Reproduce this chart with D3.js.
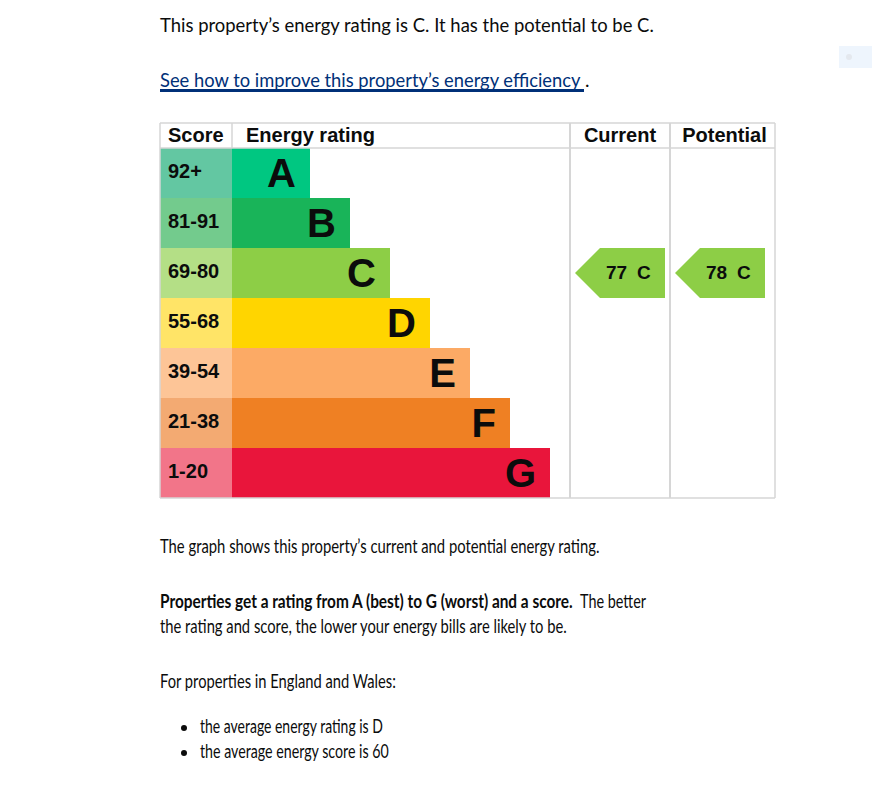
<!DOCTYPE html>
<html>
<head>
<meta charset="utf-8">
<script src="https://cdn.jsdelivr.net/npm/d3@7"></script>
<style>
  html, body { margin: 0; padding: 0; background: #ffffff; }
  svg { display: block; }
</style>
</head>
<body>
<div id="chart"></div>
<script>
// ---------- data ----------
const bands = ["A", "B", "C", "D", "E", "F", "G"];
const scoreRanges = ["92+", "81-91", "69-80", "55-68", "39-54", "21-38", "1-20"];
const bandColors = ["#00c781", "#19b459", "#8dce46", "#ffd500", "#fcaa65", "#ef8023", "#e9153b"];
const scoreColors = ["#63c7a2", "#73cb8d", "#b4df86", "#ffe467", "#fdc597", "#f3aa72", "#f27589"];
const columns = ["Score", "Energy rating", "Current", "Potential"];
const currentRating = { score: 77, band: "C" };
const potentialRating = { score: 78, band: "C" };

const introText = "This property\u2019s energy rating is C. It has the potential to be C.";
const linkText = "See how to improve this property\u2019s energy efficiency";
const graphText = "The graph shows this property\u2019s current and potential energy rating.";
const boldText = "Properties get a rating from A (best) to G (worst) and a score.";
const betterText = "The better";
const line2Text = "the rating and score, the lower your energy bills are likely to be.";
const forText = "For properties in England and Wales:";
const bulletTexts = ["the average energy rating is D", "the average energy score is 60"];

// ---------- layout ----------
const W = 872, H = 789;
const svg = d3.select("#chart").append("svg").attr("width", W).attr("height", H);

const bodyFont = "Lato, 'Noto Sans', sans-serif";
const chartFont = "'Liberation Sans', Arial, sans-serif";
const textColor = "#0b0c0c";
const gridColor = "#d6d6d6";

// body text line: natural text, horizontally scaled to hit the reference width
function bodyLine(txt, x, y, width, opts = {}) {
  const grp = svg.append("g").attr("transform", `translate(${x},${y})`);
  const t = grp.append("text")
    .attr("x", 0).attr("y", 0)
    .attr("font-family", bodyFont)
    .attr("font-size", opts.size || 19)
    .attr("font-weight", opts.weight || 400)
    .attr("fill", opts.color || textColor)
    .text(txt);
  const len = t.node().getComputedTextLength();
  if (len > 0) t.attr("transform", `scale(${width / len},1)`);
  return t;
}

// small widget at top right
svg.append("rect").attr("x", 839).attr("y", 46).attr("width", 33).attr("height", 22).attr("fill", "#eef5fd");
svg.append("circle").attr("cx", 849).attr("cy", 57).attr("r", 3).attr("fill", "#e4e8ee");

// intro + link
bodyLine(introText, 160, 32, 494);
bodyLine(linkText, 160, 87, 421, { color: "#003078" });
svg.append("text").attr("x", 585).attr("y", 87).attr("font-family", bodyFont)
  .attr("font-size", 19).attr("fill", textColor).text(".");
svg.append("rect").attr("x", 160).attr("y", 89).attr("width", 424).attr("height", 3).attr("fill", "#003078");

// ---------- chart ----------
const tableTop = 123, headerH = 25, tableBottom = 498;
const colEdges = [160, 232, 570, 670, 775];
const y = d3.scaleBand().domain(bands).range([tableTop + headerH, tableBottom]).paddingInner(0).paddingOuter(0);
const barEnd = d3.scaleLinear().domain([0, bands.length - 1]).range([310, 550]);

const g = svg.append("g");

// score cells
g.selectAll("rect.score").data(bands).join("rect")
  .attr("class", "score")
  .attr("x", colEdges[0]).attr("y", d => y(d))
  .attr("width", colEdges[1] - colEdges[0]).attr("height", y.bandwidth())
  .attr("fill", (d, i) => scoreColors[i]);

g.selectAll("text.score").data(bands).join("text")
  .attr("class", "score")
  .attr("x", 168).attr("y", d => y(d) + 30)
  .attr("font-family", chartFont).attr("font-weight", 700).attr("font-size", 20)
  .attr("fill", textColor)
  .text((d, i) => scoreRanges[i]);

// bars
g.selectAll("rect.bar").data(bands).join("rect")
  .attr("class", "bar")
  .attr("x", colEdges[1]).attr("y", d => y(d))
  .attr("width", (d, i) => barEnd(i) - colEdges[1]).attr("height", y.bandwidth())
  .attr("fill", (d, i) => bandColors[i]);

g.selectAll("text.bar").data(bands).join("text")
  .attr("class", "bar")
  .attr("x", (d, i) => barEnd(i) - 14).attr("y", d => y(d) + 39)
  .attr("text-anchor", "end")
  .attr("font-family", chartFont).attr("font-weight", 700).attr("font-size", 40)
  .attr("fill", textColor)
  .text(d => d);

// grid lines
const hLines = [tableTop, tableTop + headerH, tableBottom];
g.selectAll("line.h").data(hLines).join("line")
  .attr("x1", colEdges[0]).attr("x2", colEdges[4])
  .attr("y1", d => d).attr("y2", d => d)
  .attr("stroke", gridColor).attr("stroke-width", 1.5);
const vLines = [
  { x: colEdges[0], y2: tableBottom, w: 1.5 },
  { x: colEdges[1], y2: tableTop + headerH, w: 1.5 },
  { x: colEdges[2], y2: tableBottom, w: 2 },
  { x: colEdges[3], y2: tableBottom, w: 2 },
  { x: colEdges[4], y2: tableBottom, w: 1.5 }
];
g.selectAll("line.v").data(vLines).join("line")
  .attr("x1", d => d.x).attr("x2", d => d.x)
  .attr("y1", tableTop).attr("y2", d => d.y2)
  .attr("stroke", gridColor).attr("stroke-width", d => d.w);

// headers
const headerX = [168, 246, (colEdges[2] + colEdges[3]) / 2, (colEdges[3] + colEdges[4]) / 2 + 2];
const headerAnchor = ["start", "start", "middle", "middle"];
g.selectAll("text.head").data(columns).join("text")
  .attr("class", "head")
  .attr("x", (d, i) => headerX[i]).attr("y", 142)
  .attr("text-anchor", (d, i) => headerAnchor[i])
  .attr("font-family", chartFont).attr("font-weight", 700).attr("font-size", 20)
  .attr("fill", textColor)
  .text(d => d);

// arrows
const arrows = [
  { r: currentRating, left: 575, right: 665 },
  { r: potentialRating, left: 675, right: 765 }
];
arrows.forEach(a => {
  const i = bands.indexOf(a.r.band);
  const y0 = y(a.r.band), h = y.bandwidth();
  const p = d3.path();
  p.moveTo(a.left, y0 + h / 2);
  p.lineTo(a.left + 25, y0);
  p.lineTo(a.right, y0);
  p.lineTo(a.right, y0 + h);
  p.lineTo(a.left + 25, y0 + h);
  p.closePath();
  g.append("path").attr("d", p.toString()).attr("fill", bandColors[i]);
  g.append("text")
    .attr("x", a.left + 31).attr("y", y0 + 31)
    .attr("font-family", chartFont).attr("font-weight", 700).attr("font-size", 19)
    .attr("fill", textColor).text(a.r.score);
  g.append("text")
    .attr("x", a.left + 62).attr("y", y0 + 31)
    .attr("font-family", chartFont).attr("font-weight", 700).attr("font-size", 19)
    .attr("fill", textColor).text(a.r.band);
});

// ---------- text below ----------
bodyLine(graphText, 160, 553, 440);
bodyLine(boldText, 160, 608, 413, { weight: 700 });
bodyLine(betterText, 580, 608, 66);
bodyLine(line2Text, 160, 633, 407);
bodyLine(forText, 160, 688, 236);
const bulletY = [733, 758];
bulletTexts.forEach((t, i) => {
  svg.append("circle").attr("cx", 184).attr("cy", bulletY[i] - 5).attr("r", 3).attr("fill", textColor);
});
bodyLine(bulletTexts[0], 200, bulletY[0], 183);
bodyLine(bulletTexts[1], 200, bulletY[1], 189);
</script>
</body>
</html>
